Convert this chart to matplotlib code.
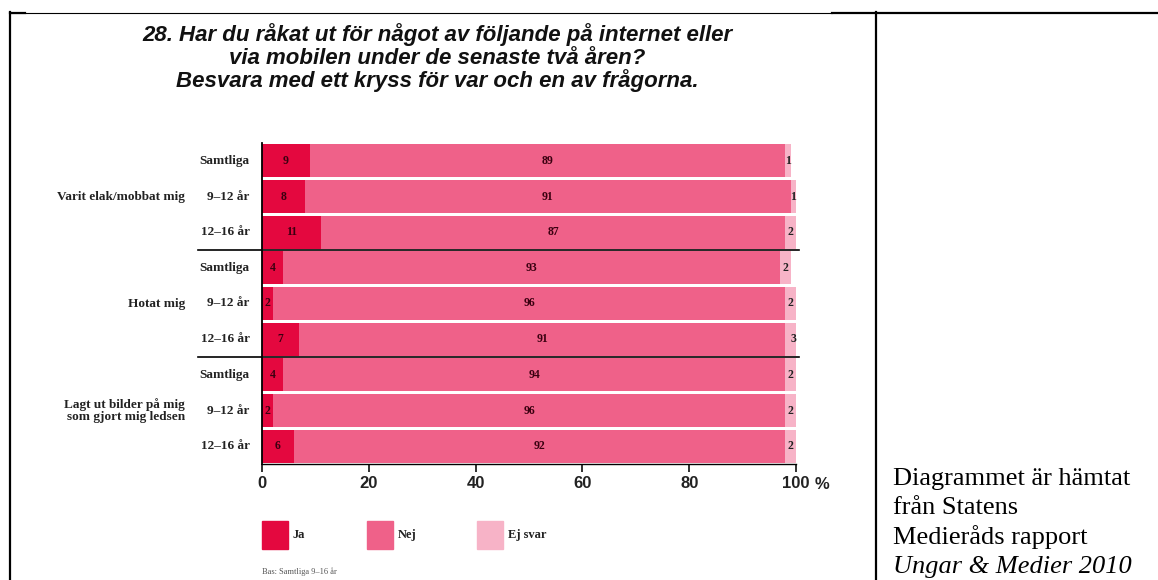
import matplotlib.pyplot as plt
from matplotlib.patches import Rectangle
from matplotlib.lines import Line2D

# Data
groups = ["Varit elak/mobbat mig", "Hotat mig", "Lagt ut bilder på mig\nsom gjort mig ledsen"]
ages = ["Samtliga", "9–12 år", "12–16 år"]
ja = [9, 8, 11, 4, 2, 7, 4, 2, 6]
nej = [89, 91, 87, 93, 96, 91, 94, 96, 92]
ej_svar = [1, 1, 2, 2, 2, 3, 2, 2, 2]
xticks = [0, 20, 40, 60, 80, 100]
legend_names = ["Ja", "Nej", "Ej svar"]

c_ja = "#e4083f"
c_nej = "#ef6189"
c_ej = "#f7b3c7"

W, H = 1158, 580
fig = plt.figure(figsize=(W / 100, H / 100), dpi=100)


def fx(x):
    return x / W


def fy(y):
    return 1 - y / H


# axes placed so 0 -> 262 px, 100 -> 796 px, bars from 143 to 464 px
ax = fig.add_axes([fx(262), fy(464), fx(796) - fx(262), fy(143) - fy(464)])

rows = list(range(len(ja)))
left2 = [a + b for a, b in zip(ja, nej)]
ax.barh(rows, ja, height=0.93, color=c_ja)
ax.barh(rows, nej, left=ja, height=0.93, color=c_nej)
ax.barh(rows, ej_svar, left=left2, height=0.93, color=c_ej)

lab = dict(fontweight="bold", family="Liberation Serif")
for i in rows:
    ax.text(ja[i] / 2, i, str(ja[i]), ha="center", va="center",
            fontsize=8.5, color="#3a0010", **lab)
    ax.text(ja[i] + nej[i] / 2, i, str(nej[i]), ha="center", va="center",
            fontsize=8.5, color="#3a0010", **lab)
    ax.text(left2[i] + ej_svar[i] / 2, i, str(ej_svar[i]), ha="center", va="center",
            fontsize=8.5, color="#222222", **lab)
    ax.text(-2.3, i, ages[i % 3], ha="right", va="center",
            fontsize=9.5, color="#222222", **lab)

for g, name in enumerate(groups):
    ax.text(-14.4, g * 3 + 1, name, ha="right", va="center", fontsize=9.5,
            color="#222222", linespacing=0.95, **lab)

# group separators
for y in [2.5, 5.5]:
    ax.add_line(Line2D([-12, 100.5], [y, y], color="black", lw=1.2, clip_on=False))

ax.set_xlim(0, 100)
ax.set_ylim(8.5, -0.5)
ax.set_yticks([])
ax.set_xticks(xticks)
ax.set_xticklabels([str(t) for t in xticks], fontsize=12, fontweight="bold",
                   family="Liberation Sans", color="#222222")
ax.tick_params(axis="x", direction="out", length=6, width=1.3, pad=3, color="#222222")
for s in ["top", "right"]:
    ax.spines[s].set_visible(False)
ax.spines["left"].set_linewidth(1.3)
ax.spines["bottom"].set_linewidth(1.0)
ax.text(103.4, -0.042, "%", transform=ax.get_xaxis_transform(), ha="left", va="top",
        fontsize=12, fontweight="bold", family="Liberation Sans", color="#222222")

# title
title_lines = ["28. Har du råkat ut för något av följande på internet eller",
               "via mobilen under de senaste två åren?",
               "Besvara med ett kryss för var och en av frågorna."]
for k, line in enumerate(title_lines):
    fig.text(fx(437), fy(35 + k * 23), line, ha="center", va="center", fontsize=16,
             fontweight="bold", fontstyle="italic",
             family="Liberation Sans", color="#111111")

# legend
leg_x = [262, 367, 477]
for k, name in enumerate(legend_names):
    fig.add_artist(Rectangle((fx(leg_x[k]), fy(549)), fx(26), 28 / H,
                             transform=fig.transFigure,
                             color=[c_ja, c_nej, c_ej][k]))
    fig.text(fx(leg_x[k] + 31), fy(535), name, ha="left", va="center", fontsize=9,
             fontweight="bold", family="Liberation Serif", color="#222222")

fig.text(fx(262), fy(572), "Bas: Samtliga 9–16 år", ha="left", va="center",
         fontsize=6, family="Liberation Serif", color="#555555")

# document table borders
fig.add_artist(Line2D([fx(10), fx(10)], [fy(12), fy(580)], color="black", lw=1.6))
fig.add_artist(Line2D([fx(10), fx(832)], [fy(12.5), fy(12.5)], color="black", lw=0.8))
fig.add_artist(Line2D([fx(10), fx(25)], [fy(12.5), fy(12.5)], color="black", lw=1.6))
fig.add_artist(Line2D([fx(832), fx(1158)], [fy(12.5), fy(12.5)], color="black", lw=1.6))
fig.add_artist(Line2D([fx(876), fx(876)], [fy(12), fy(580)], color="black", lw=1.6))

# side note
note = ["Diagrammet är hämtat", "från Statens", "Medieråds rapport"]
for k, line in enumerate(note):
    fig.text(fx(893), fy(479 + k * 29), line, ha="left", va="center", fontsize=19,
             family="Liberation Serif", color="black")
fig.text(fx(893), fy(567), "Ungar & Medier 2010", ha="left", va="center", fontsize=19,
         fontstyle="italic", family="Liberation Serif", color="black")

fig.savefig("out.png", dpi=100)
